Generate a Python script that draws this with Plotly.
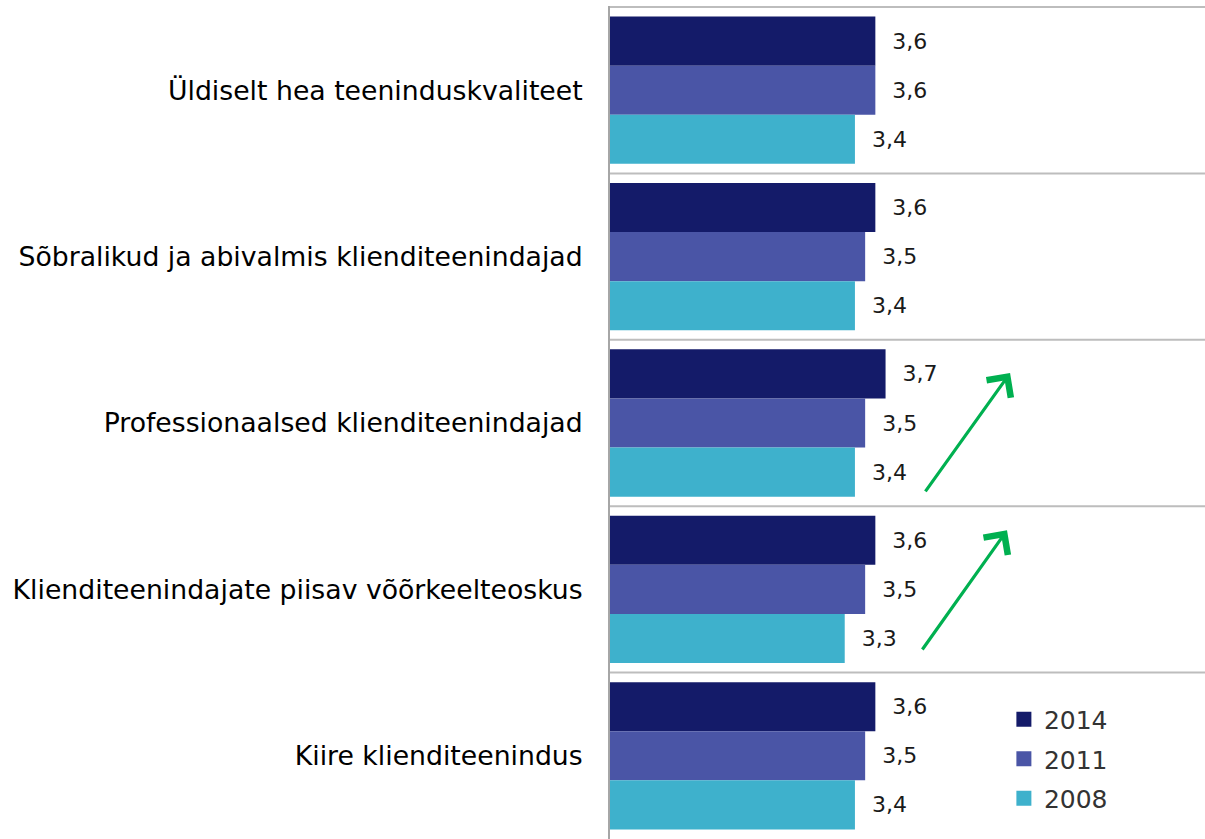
import plotly.graph_objects as go

# Service quality ratings by aspect and survey year
categories = [
    "Üldiselt hea teeninduskvaliteet",
    "Sõbralikud ja abivalmis klienditeenindajad",
    "Professionaalsed klienditeenindajad",
    "Klienditeenindajate piisav võõrkeelteoskus",
    "Kiire klienditeenindus",
]
years = ["2014", "2011", "2008"]
values_2014 = [3.6, 3.6, 3.7, 3.6, 3.6]
values_2011 = [3.6, 3.5, 3.5, 3.5, 3.5]
values_2008 = [3.4, 3.4, 3.4, 3.3, 3.4]

series = [values_2014, values_2011, values_2008]
colors = ["#141B69", "#4A55A6", "#3EB1CC"]

fig = go.Figure()
for name, vals, col in zip(years, series, colors):
    fig.add_trace(go.Bar(
        y=categories,
        x=vals,
        name=name,
        orientation="h",
        showlegend=False,
        marker=dict(color=col, line=dict(width=0)),
        texttemplate="  %{x:.1f}",
        textposition="outside",
        cliponaxis=False,
        textfont=dict(family="DejaVu Sans", size=22, color="#1a1a1a"),
    ))

# legend entries with square swatches
for name, col in zip(years, colors):
    fig.add_trace(go.Scatter(
        x=[None], y=[None], mode="markers", name=name,
        legendgroup=name,
        marker=dict(symbol="square", size=15, color=col),
    ))

# separators between category bands
shapes = []
for i in range(len(categories)):
    shapes.append(dict(
        type="line", xref="paper", yref="y",
        x0=0, x1=1, y0=i - 0.5, y1=i - 0.5,
        line=dict(color="#BDBDBD", width=2),
    ))

# upward trend arrows
arrow_style = dict(
    xref="x", yref="y", axref="x", ayref="y",
    showarrow=True, arrowhead=4, arrowsize=1.8, arrowwidth=3.2,
    arrowcolor="#00B050", text="",
)
annotations = [
    dict(x=4.92, y=1.70, ax=4.08, ay=2.42, **arrow_style),
    dict(x=4.89, y=2.645, ax=4.05, ay=3.37, **arrow_style),
]

fig.update_layout(
    width=1205, height=839,
    margin=dict(l=610, r=0, t=6, b=0),
    paper_bgcolor="white", plot_bgcolor="white",
    barmode="group", bargap=0.115, bargroupgap=0,
    separators=", ",
    shapes=shapes,
    annotations=annotations,
    font=dict(family="DejaVu Sans", color="#000000"),
    legend=dict(
        x=0.662, y=0.171, xanchor="left", yanchor="top",
        font=dict(family="DejaVu Sans", size=25, color="#333333"),
        traceorder="grouped", tracegroupgap=4, itemwidth=30,
        bgcolor="rgba(0,0,0,0)",
    ),
    xaxis=dict(
        range=[1, 6.83], showgrid=False, zeroline=False,
        showticklabels=False, showline=False, fixedrange=True,
    ),
    yaxis=dict(
        autorange="reversed", showgrid=False, zeroline=False,
        showline=True, linecolor="#A6A6A6", linewidth=2,
        ticks="", ticklabelstandoff=20,
        tickfont=dict(family="DejaVu Sans", size=26.7, color="#000000"),
    ),
)

fig.write_html("out.html")
